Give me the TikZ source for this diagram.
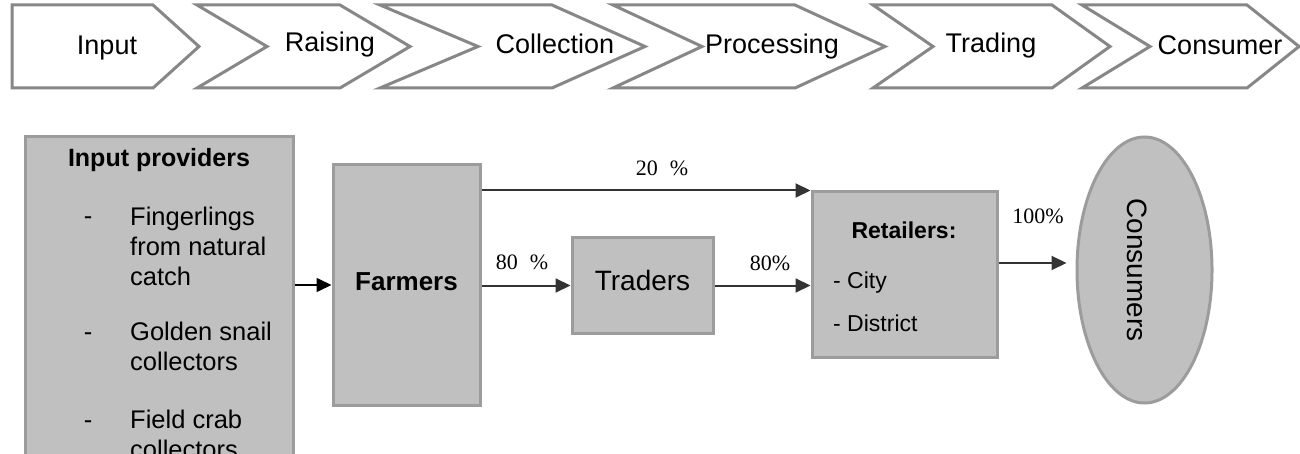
\documentclass[tikz,border=0pt]{standalone}
\usepackage{fontspec}
\setmainfont{Liberation Sans}
\newfontfamily\pctfont{Liberation Serif}
\usetikzlibrary{arrows.meta,shapes.geometric,calc}

\definecolor{chevline}{HTML}{878787}
\definecolor{boxfill}{HTML}{C0C0C0}
\definecolor{boxline}{HTML}{9C9C9C}
\definecolor{arrline}{HTML}{333333}

\begin{document}
\begin{tikzpicture}[x=1pt,y=-1pt,
  chev/.style={draw=chevline,line width=3pt,fill=white,line join=miter},
  chevtext/.style={font=\fontsize{27}{30}\selectfont,inner sep=0pt,anchor=base},
  box/.style={draw=boxline,fill=boxfill,line width=3pt,inner sep=0pt},
  arr/.style={draw=arrline,line width=2pt,-{Triangle[length=15pt,width=14pt]}},
  pct/.style={font=\pctfont\fontsize{22}{26}\selectfont,inner sep=0pt},
  listtext/.style={font=\fontsize{25.5}{30}\selectfont,inner sep=0pt,align=left,anchor=north west},
  dashmark/.style={font=\fontsize{25.5}{30}\selectfont,inner sep=0pt,anchor=base},
  boxlabel/.style={inner sep=0pt,anchor=base}]

\clip (0,0) rectangle (1300,454);
\fill[white] (0,0) rectangle (1300,454);

% value chain stages
\draw[chev] (12,5) -- (153,5) -- (199,46.5) -- (153,88) -- (12,88) -- cycle;
\draw[chev] (197,5) -- (340,5) -- (410,46.5) -- (340,88) -- (197,88) -- (267,46.5) -- cycle;
\draw[chev] (380,5) -- (552,5) -- (645,46.5) -- (552,88) -- (380,88) -- (478,46.5) -- cycle;
\draw[chev] (613,5) -- (795,5) -- (885,46.5) -- (795,88) -- (613,88) -- (702,46.5) -- cycle;
\draw[chev] (873,5) -- (1052,5) -- (1110,46.5) -- (1052,88) -- (873,88) -- (933,46.5) -- cycle;
\draw[chev] (1082,5) -- (1247,5) -- (1299,46.5) -- (1247,88) -- (1082,88) -- (1150,46.5) -- cycle;

\node[chevtext] (sInput) at (107,55) {Input};
\node[chevtext] (sRaising) at (330,52) {Raising};
\node[chevtext] (sCollection) at (555,54) {Collection};
\node[chevtext] (sProcessing) at (772,54) {Processing};
\node[chevtext] (sTrading) at (991,53) {Trading};
\node[chevtext] (sConsumer) at (1220,55) {Consumer};

% actors
\node[box,minimum width=268pt,minimum height=360pt,anchor=north] (inp) at (159,135) {};
\node[box,minimum width=147pt,minimum height=240pt] (farm) at (406.5,285) {};
\node[box,minimum width=141pt,minimum height=95pt] (trad) at (642.5,285.5) {};
\node[box,minimum width=185pt,minimum height=165pt] (ret) at (904.5,274.5) {};
\node[box,ellipse,minimum width=135pt,minimum height=266pt] (cons) at (1144.5,270) {};

% input providers text
\node[boxlabel,font=\bfseries\fontsize{25}{30}\selectfont] (inpTitle) at (159,167) {Input providers};
\node[dashmark] (d1) at (88,225) {-};
\node[dashmark] (d2) at (88,340) {-};
\node[dashmark] (d3) at (88,428) {-};
\node[listtext] (l1) at (130,206.5) {Fingerlings\\from natural\\catch};
\node[listtext] (l2) at (130,321.5) {Golden snail\\collectors};
\node[listtext] (l3) at (130,409.5) {Field crab\\collectors};

% box labels
\node[boxlabel,font=\bfseries\fontsize{26}{30}\selectfont] (farmText) at (406.5,290) {Farmers};
\node[boxlabel,font=\fontsize{28}{32}\selectfont] (tradText) at (642.5,290) {Traders};
\node[boxlabel,font=\bfseries\fontsize{23}{28}\selectfont] (retTitle) at (904,239) {Retailers:};
\node[boxlabel,anchor=base west,font=\fontsize{23}{28}\selectfont] (retCity) at (833,288) {- City};
\node[boxlabel,anchor=base west,font=\fontsize{23}{28}\selectfont] (retDistrict) at (833,331) {- District};
\node[inner sep=0pt,rotate=-90,font=\fontsize{28}{32}\selectfont] (consText) at (1137,270) {Consumers};

% flows
\draw[arr,draw=black,line width=1.6pt] (inp.east |- farm.west) -- (farm.west);
\draw[arr] (farm.east |- ret.north west) -- (ret.north west);
\draw[arr] (farm.east |- trad.west) -- (trad.west);
\draw[arr] (trad.east) -- (trad.east -| ret.west);
\draw[arr] ($(ret.east)+(0,-11.5)$) -- ($(cons.west)+(-9,-7)$);

% shares
\node[pct] (p20) at (662,168) {20\hspace{0.55em}\%};
\node[pct] (p80a) at (522,262) {80\hspace{0.55em}\%};
\node[pct] (p80b) at (770,263) {80\%};
\node[pct] (p100) at (1038,216) {100\%};

\end{tikzpicture}
\end{document}
